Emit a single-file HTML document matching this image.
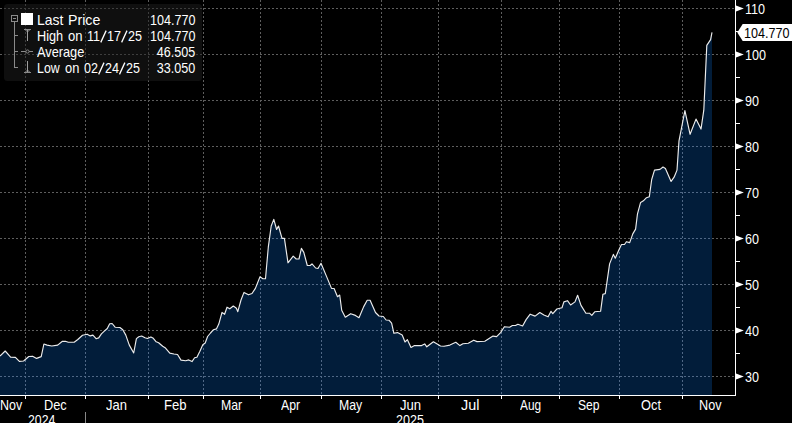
<!DOCTYPE html>
<html><head><meta charset="utf-8"><title>chart</title>
<style>
html,body{margin:0;padding:0;background:#000;}
body{width:792px;height:423px;position:relative;overflow:hidden;font-family:"Liberation Sans",sans-serif;}
.t{position:absolute;display:block;font-family:"Liberation Sans",sans-serif;font-size:14.5px;line-height:16px;height:16px;white-space:nowrap;color:#fff;}
.sl{display:inline-block;vertical-align:top;overflow:visible;}
</style></head><body>
<svg width="792" height="423" viewBox="0 0 792 423" style="position:absolute;left:0;top:0"><path d="M0,395.5 L0,356 L5.2,351 L10.6,357.2 L15.4,357.4 L19.4,361.4 L23.6,361 L28.8,356.5 L32.6,356.2 L36.6,358.4 L41.2,356.6 L43.9,344 L47.1,345.1 L51.8,346 L57.7,345.1 L62.4,341.3 L65.4,341.3 L68.3,342.2 L74.2,342.2 L77.8,339.5 L82.5,335.3 L87.2,334.2 L90.2,335.9 L92.9,335.1 L96.1,338.7 L98.7,337.9 L101.4,333.9 L104.3,331.2 L107.3,328.5 L109.7,323.7 L112.1,323.5 L115.1,327.2 L119.9,327.5 L122.8,329.8 L125.8,335.1 L129.3,345.1 L133.7,353 L136.4,338.6 L138.8,336.8 L141.7,336 L145,337.7 L147.4,338.5 L150.9,336.9 L153.3,338.3 L156.2,341.8 L158.6,342.7 L162.7,346.2 L165.1,347.7 L169.8,353.1 L173.9,354 L177.5,354.5 L181,360.1 L185.7,360.7 L188.7,359.9 L192,361.6 L194.6,357.8 L196.9,357.2 L199.9,351.3 L202.8,344.8 L205.2,343 L207.6,336.5 L210.5,333 L213.5,329.7 L216.4,328.9 L218.8,324.1 L222,312.4 L224.6,314.3 L227,307.2 L229.8,308.8 L233.3,306 L236.4,308.3 L237.8,311.7 L241,300 L244,292.4 L248.5,294.8 L252,293.5 L255.4,288.4 L260,276.8 L262.9,278.7 L265.5,278.7 L268.3,247.2 L271.2,226 L273.8,219.4 L276.6,229.5 L278.5,226 L282,238.3 L284.4,238.3 L288,262.8 L293.2,256.2 L296.2,259 L299,259 L301.4,248.4 L303.8,252.4 L307.3,265.5 L310.2,265.5 L312,263.8 L315.6,268 L318,268.5 L321,263.3 L326.2,275.6 L331.5,288.4 L334.1,288.5 L337.5,296.7 L339.7,295 L341.7,310.2 L345.3,317.2 L350.7,313.7 L355.4,315.4 L359,317.7 L363.7,306.6 L367.2,300.2 L370.1,300.2 L375.5,312.5 L379,316 L383.3,316.5 L386.1,320 L389.2,320.3 L391.6,323.2 L393.9,333.3 L397.5,332.6 L402.2,335 L405,342 L407.4,339.7 L411,347.5 L414.5,345.6 L421.6,345.6 L424.7,343.9 L426.8,346.8 L433.4,341.8 L440.5,346 L444,346.3 L449.9,345.1 L455.8,342.3 L459.9,345.6 L462.9,343.7 L468.3,343.2 L473.7,340.2 L477,341.6 L484.8,341.3 L493,336.1 L496.6,336.6 L500.6,332.6 L504.4,326.7 L509.6,327.2 L512.4,325.5 L515.5,325.5 L517.9,324.3 L522.6,326 L526.1,319.6 L530.2,314.2 L535.1,316.1 L539.8,312.5 L543.9,314.9 L548.1,316.8 L551,311.3 L552.8,313.7 L556.9,309 L562,307.8 L563.9,301.9 L567.5,300.7 L570.6,305 L575,301.9 L577.6,295.3 L581,305.4 L585.9,313.2 L589.5,313.2 L591.8,315.4 L594.7,311.8 L600.6,311.3 L602.9,294.3 L605.3,293.6 L609.6,263.9 L613.4,254.4 L615.3,258.2 L619.3,249 L621.5,244.5 L624.5,244.5 L626.4,241.7 L629.7,242.6 L632.8,233.9 L635.6,229.1 L637.5,213.8 L640.6,202.4 L643.4,200.8 L646.5,197.7 L649.3,196.8 L651.7,179.5 L654.5,170.1 L660,169.4 L663,167 L665.4,168.4 L671.1,181.4 L674.1,177.2 L677,170.1 L679,140.9 L684.9,110.6 L690.1,134.3 L696,119.1 L701,129.1 L703.8,110.2 L706.8,45.4 L710.6,39.6 L712,32.3 L712,395.5 Z" fill="#021d3a"/><line x1="25.5" y1="0" x2="25.5" y2="395" stroke="#5e5e5e" stroke-width="1" stroke-dasharray="2,2" shape-rendering="crispEdges"/><line x1="85.5" y1="0" x2="85.5" y2="395" stroke="#5e5e5e" stroke-width="1" stroke-dasharray="2,2" shape-rendering="crispEdges"/><line x1="148.5" y1="0" x2="148.5" y2="395" stroke="#5e5e5e" stroke-width="1" stroke-dasharray="2,2" shape-rendering="crispEdges"/><line x1="203.5" y1="0" x2="203.5" y2="395" stroke="#5e5e5e" stroke-width="1" stroke-dasharray="2,2" shape-rendering="crispEdges"/><line x1="260.5" y1="0" x2="260.5" y2="395" stroke="#5e5e5e" stroke-width="1" stroke-dasharray="2,2" shape-rendering="crispEdges"/><line x1="321.5" y1="0" x2="321.5" y2="395" stroke="#5e5e5e" stroke-width="1" stroke-dasharray="2,2" shape-rendering="crispEdges"/><line x1="381.5" y1="0" x2="381.5" y2="395" stroke="#5e5e5e" stroke-width="1" stroke-dasharray="2,2" shape-rendering="crispEdges"/><line x1="438.5" y1="0" x2="438.5" y2="395" stroke="#5e5e5e" stroke-width="1" stroke-dasharray="2,2" shape-rendering="crispEdges"/><line x1="501.5" y1="0" x2="501.5" y2="395" stroke="#5e5e5e" stroke-width="1" stroke-dasharray="2,2" shape-rendering="crispEdges"/><line x1="559.5" y1="0" x2="559.5" y2="395" stroke="#5e5e5e" stroke-width="1" stroke-dasharray="2,2" shape-rendering="crispEdges"/><line x1="619.5" y1="0" x2="619.5" y2="395" stroke="#5e5e5e" stroke-width="1" stroke-dasharray="2,2" shape-rendering="crispEdges"/><line x1="682.5" y1="0" x2="682.5" y2="395" stroke="#5e5e5e" stroke-width="1" stroke-dasharray="2,2" shape-rendering="crispEdges"/><line x1="0" y1="8.5" x2="735" y2="8.5" stroke="#5e5e5e" stroke-width="1" stroke-dasharray="2,2" shape-rendering="crispEdges"/><line x1="0" y1="54.5" x2="735" y2="54.5" stroke="#5e5e5e" stroke-width="1" stroke-dasharray="2,2" shape-rendering="crispEdges"/><line x1="0" y1="100.5" x2="735" y2="100.5" stroke="#5e5e5e" stroke-width="1" stroke-dasharray="2,2" shape-rendering="crispEdges"/><line x1="0" y1="146.5" x2="735" y2="146.5" stroke="#5e5e5e" stroke-width="1" stroke-dasharray="2,2" shape-rendering="crispEdges"/><line x1="0" y1="192.5" x2="735" y2="192.5" stroke="#5e5e5e" stroke-width="1" stroke-dasharray="2,2" shape-rendering="crispEdges"/><line x1="0" y1="238.5" x2="735" y2="238.5" stroke="#5e5e5e" stroke-width="1" stroke-dasharray="2,2" shape-rendering="crispEdges"/><line x1="0" y1="284.5" x2="735" y2="284.5" stroke="#5e5e5e" stroke-width="1" stroke-dasharray="2,2" shape-rendering="crispEdges"/><line x1="0" y1="330.5" x2="735" y2="330.5" stroke="#5e5e5e" stroke-width="1" stroke-dasharray="2,2" shape-rendering="crispEdges"/><line x1="0" y1="376.5" x2="735" y2="376.5" stroke="#5e5e5e" stroke-width="1" stroke-dasharray="2,2" shape-rendering="crispEdges"/><clipPath id="ac"><path d="M0,395.5 L0,356 L5.2,351 L10.6,357.2 L15.4,357.4 L19.4,361.4 L23.6,361 L28.8,356.5 L32.6,356.2 L36.6,358.4 L41.2,356.6 L43.9,344 L47.1,345.1 L51.8,346 L57.7,345.1 L62.4,341.3 L65.4,341.3 L68.3,342.2 L74.2,342.2 L77.8,339.5 L82.5,335.3 L87.2,334.2 L90.2,335.9 L92.9,335.1 L96.1,338.7 L98.7,337.9 L101.4,333.9 L104.3,331.2 L107.3,328.5 L109.7,323.7 L112.1,323.5 L115.1,327.2 L119.9,327.5 L122.8,329.8 L125.8,335.1 L129.3,345.1 L133.7,353 L136.4,338.6 L138.8,336.8 L141.7,336 L145,337.7 L147.4,338.5 L150.9,336.9 L153.3,338.3 L156.2,341.8 L158.6,342.7 L162.7,346.2 L165.1,347.7 L169.8,353.1 L173.9,354 L177.5,354.5 L181,360.1 L185.7,360.7 L188.7,359.9 L192,361.6 L194.6,357.8 L196.9,357.2 L199.9,351.3 L202.8,344.8 L205.2,343 L207.6,336.5 L210.5,333 L213.5,329.7 L216.4,328.9 L218.8,324.1 L222,312.4 L224.6,314.3 L227,307.2 L229.8,308.8 L233.3,306 L236.4,308.3 L237.8,311.7 L241,300 L244,292.4 L248.5,294.8 L252,293.5 L255.4,288.4 L260,276.8 L262.9,278.7 L265.5,278.7 L268.3,247.2 L271.2,226 L273.8,219.4 L276.6,229.5 L278.5,226 L282,238.3 L284.4,238.3 L288,262.8 L293.2,256.2 L296.2,259 L299,259 L301.4,248.4 L303.8,252.4 L307.3,265.5 L310.2,265.5 L312,263.8 L315.6,268 L318,268.5 L321,263.3 L326.2,275.6 L331.5,288.4 L334.1,288.5 L337.5,296.7 L339.7,295 L341.7,310.2 L345.3,317.2 L350.7,313.7 L355.4,315.4 L359,317.7 L363.7,306.6 L367.2,300.2 L370.1,300.2 L375.5,312.5 L379,316 L383.3,316.5 L386.1,320 L389.2,320.3 L391.6,323.2 L393.9,333.3 L397.5,332.6 L402.2,335 L405,342 L407.4,339.7 L411,347.5 L414.5,345.6 L421.6,345.6 L424.7,343.9 L426.8,346.8 L433.4,341.8 L440.5,346 L444,346.3 L449.9,345.1 L455.8,342.3 L459.9,345.6 L462.9,343.7 L468.3,343.2 L473.7,340.2 L477,341.6 L484.8,341.3 L493,336.1 L496.6,336.6 L500.6,332.6 L504.4,326.7 L509.6,327.2 L512.4,325.5 L515.5,325.5 L517.9,324.3 L522.6,326 L526.1,319.6 L530.2,314.2 L535.1,316.1 L539.8,312.5 L543.9,314.9 L548.1,316.8 L551,311.3 L552.8,313.7 L556.9,309 L562,307.8 L563.9,301.9 L567.5,300.7 L570.6,305 L575,301.9 L577.6,295.3 L581,305.4 L585.9,313.2 L589.5,313.2 L591.8,315.4 L594.7,311.8 L600.6,311.3 L602.9,294.3 L605.3,293.6 L609.6,263.9 L613.4,254.4 L615.3,258.2 L619.3,249 L621.5,244.5 L624.5,244.5 L626.4,241.7 L629.7,242.6 L632.8,233.9 L635.6,229.1 L637.5,213.8 L640.6,202.4 L643.4,200.8 L646.5,197.7 L649.3,196.8 L651.7,179.5 L654.5,170.1 L660,169.4 L663,167 L665.4,168.4 L671.1,181.4 L674.1,177.2 L677,170.1 L679,140.9 L684.9,110.6 L690.1,134.3 L696,119.1 L701,129.1 L703.8,110.2 L706.8,45.4 L710.6,39.6 L712,32.3 L712,395.5 Z"/></clipPath><g clip-path="url(#ac)"><line x1="25.5" y1="0" x2="25.5" y2="395" stroke="#506886" stroke-width="1" stroke-dasharray="2,2" shape-rendering="crispEdges"/><line x1="85.5" y1="0" x2="85.5" y2="395" stroke="#506886" stroke-width="1" stroke-dasharray="2,2" shape-rendering="crispEdges"/><line x1="148.5" y1="0" x2="148.5" y2="395" stroke="#506886" stroke-width="1" stroke-dasharray="2,2" shape-rendering="crispEdges"/><line x1="203.5" y1="0" x2="203.5" y2="395" stroke="#506886" stroke-width="1" stroke-dasharray="2,2" shape-rendering="crispEdges"/><line x1="260.5" y1="0" x2="260.5" y2="395" stroke="#506886" stroke-width="1" stroke-dasharray="2,2" shape-rendering="crispEdges"/><line x1="321.5" y1="0" x2="321.5" y2="395" stroke="#506886" stroke-width="1" stroke-dasharray="2,2" shape-rendering="crispEdges"/><line x1="381.5" y1="0" x2="381.5" y2="395" stroke="#506886" stroke-width="1" stroke-dasharray="2,2" shape-rendering="crispEdges"/><line x1="438.5" y1="0" x2="438.5" y2="395" stroke="#506886" stroke-width="1" stroke-dasharray="2,2" shape-rendering="crispEdges"/><line x1="501.5" y1="0" x2="501.5" y2="395" stroke="#506886" stroke-width="1" stroke-dasharray="2,2" shape-rendering="crispEdges"/><line x1="559.5" y1="0" x2="559.5" y2="395" stroke="#506886" stroke-width="1" stroke-dasharray="2,2" shape-rendering="crispEdges"/><line x1="619.5" y1="0" x2="619.5" y2="395" stroke="#506886" stroke-width="1" stroke-dasharray="2,2" shape-rendering="crispEdges"/><line x1="682.5" y1="0" x2="682.5" y2="395" stroke="#506886" stroke-width="1" stroke-dasharray="2,2" shape-rendering="crispEdges"/><line x1="0" y1="8.5" x2="735" y2="8.5" stroke="#506886" stroke-width="1" stroke-dasharray="2,2" shape-rendering="crispEdges"/><line x1="0" y1="54.5" x2="735" y2="54.5" stroke="#506886" stroke-width="1" stroke-dasharray="2,2" shape-rendering="crispEdges"/><line x1="0" y1="100.5" x2="735" y2="100.5" stroke="#506886" stroke-width="1" stroke-dasharray="2,2" shape-rendering="crispEdges"/><line x1="0" y1="146.5" x2="735" y2="146.5" stroke="#506886" stroke-width="1" stroke-dasharray="2,2" shape-rendering="crispEdges"/><line x1="0" y1="192.5" x2="735" y2="192.5" stroke="#506886" stroke-width="1" stroke-dasharray="2,2" shape-rendering="crispEdges"/><line x1="0" y1="238.5" x2="735" y2="238.5" stroke="#506886" stroke-width="1" stroke-dasharray="2,2" shape-rendering="crispEdges"/><line x1="0" y1="284.5" x2="735" y2="284.5" stroke="#506886" stroke-width="1" stroke-dasharray="2,2" shape-rendering="crispEdges"/><line x1="0" y1="330.5" x2="735" y2="330.5" stroke="#506886" stroke-width="1" stroke-dasharray="2,2" shape-rendering="crispEdges"/><line x1="0" y1="376.5" x2="735" y2="376.5" stroke="#506886" stroke-width="1" stroke-dasharray="2,2" shape-rendering="crispEdges"/></g><polyline points="0,356 5.2,351 10.6,357.2 15.4,357.4 19.4,361.4 23.6,361 28.8,356.5 32.6,356.2 36.6,358.4 41.2,356.6 43.9,344 47.1,345.1 51.8,346 57.7,345.1 62.4,341.3 65.4,341.3 68.3,342.2 74.2,342.2 77.8,339.5 82.5,335.3 87.2,334.2 90.2,335.9 92.9,335.1 96.1,338.7 98.7,337.9 101.4,333.9 104.3,331.2 107.3,328.5 109.7,323.7 112.1,323.5 115.1,327.2 119.9,327.5 122.8,329.8 125.8,335.1 129.3,345.1 133.7,353 136.4,338.6 138.8,336.8 141.7,336 145,337.7 147.4,338.5 150.9,336.9 153.3,338.3 156.2,341.8 158.6,342.7 162.7,346.2 165.1,347.7 169.8,353.1 173.9,354 177.5,354.5 181,360.1 185.7,360.7 188.7,359.9 192,361.6 194.6,357.8 196.9,357.2 199.9,351.3 202.8,344.8 205.2,343 207.6,336.5 210.5,333 213.5,329.7 216.4,328.9 218.8,324.1 222,312.4 224.6,314.3 227,307.2 229.8,308.8 233.3,306 236.4,308.3 237.8,311.7 241,300 244,292.4 248.5,294.8 252,293.5 255.4,288.4 260,276.8 262.9,278.7 265.5,278.7 268.3,247.2 271.2,226 273.8,219.4 276.6,229.5 278.5,226 282,238.3 284.4,238.3 288,262.8 293.2,256.2 296.2,259 299,259 301.4,248.4 303.8,252.4 307.3,265.5 310.2,265.5 312,263.8 315.6,268 318,268.5 321,263.3 326.2,275.6 331.5,288.4 334.1,288.5 337.5,296.7 339.7,295 341.7,310.2 345.3,317.2 350.7,313.7 355.4,315.4 359,317.7 363.7,306.6 367.2,300.2 370.1,300.2 375.5,312.5 379,316 383.3,316.5 386.1,320 389.2,320.3 391.6,323.2 393.9,333.3 397.5,332.6 402.2,335 405,342 407.4,339.7 411,347.5 414.5,345.6 421.6,345.6 424.7,343.9 426.8,346.8 433.4,341.8 440.5,346 444,346.3 449.9,345.1 455.8,342.3 459.9,345.6 462.9,343.7 468.3,343.2 473.7,340.2 477,341.6 484.8,341.3 493,336.1 496.6,336.6 500.6,332.6 504.4,326.7 509.6,327.2 512.4,325.5 515.5,325.5 517.9,324.3 522.6,326 526.1,319.6 530.2,314.2 535.1,316.1 539.8,312.5 543.9,314.9 548.1,316.8 551,311.3 552.8,313.7 556.9,309 562,307.8 563.9,301.9 567.5,300.7 570.6,305 575,301.9 577.6,295.3 581,305.4 585.9,313.2 589.5,313.2 591.8,315.4 594.7,311.8 600.6,311.3 602.9,294.3 605.3,293.6 609.6,263.9 613.4,254.4 615.3,258.2 619.3,249 621.5,244.5 624.5,244.5 626.4,241.7 629.7,242.6 632.8,233.9 635.6,229.1 637.5,213.8 640.6,202.4 643.4,200.8 646.5,197.7 649.3,196.8 651.7,179.5 654.5,170.1 660,169.4 663,167 665.4,168.4 671.1,181.4 674.1,177.2 677,170.1 679,140.9 684.9,110.6 690.1,134.3 696,119.1 701,129.1 703.8,110.2 706.8,45.4 710.6,39.6 712,32.3" fill="none" stroke="#ececec" stroke-width="1.15" stroke-linejoin="round"/><rect x="0" y="395" width="736" height="1" fill="#fff" shape-rendering="crispEdges"/><rect x="735" y="0" width="1" height="396" fill="#fff" shape-rendering="crispEdges"/><rect x="25" y="396" width="1" height="3" fill="#fff" shape-rendering="crispEdges"/><rect x="85" y="396" width="1" height="3" fill="#fff" shape-rendering="crispEdges"/><rect x="148" y="396" width="1" height="3" fill="#fff" shape-rendering="crispEdges"/><rect x="203" y="396" width="1" height="3" fill="#fff" shape-rendering="crispEdges"/><rect x="260" y="396" width="1" height="3" fill="#fff" shape-rendering="crispEdges"/><rect x="321" y="396" width="1" height="3" fill="#fff" shape-rendering="crispEdges"/><rect x="381" y="396" width="1" height="3" fill="#fff" shape-rendering="crispEdges"/><rect x="438" y="396" width="1" height="3" fill="#fff" shape-rendering="crispEdges"/><rect x="501" y="396" width="1" height="3" fill="#fff" shape-rendering="crispEdges"/><rect x="559" y="396" width="1" height="3" fill="#fff" shape-rendering="crispEdges"/><rect x="619" y="396" width="1" height="3" fill="#fff" shape-rendering="crispEdges"/><rect x="682" y="396" width="1" height="3" fill="#fff" shape-rendering="crispEdges"/><path d="M736,5.4 L743.8,8.5 L736,11.6 Z" fill="#fff"/><path d="M736,51.4 L743.8,54.5 L736,57.6 Z" fill="#fff"/><path d="M736,97.4 L743.8,100.5 L736,103.6 Z" fill="#fff"/><path d="M736,143.4 L743.8,146.5 L736,149.6 Z" fill="#fff"/><path d="M736,189.4 L743.8,192.5 L736,195.6 Z" fill="#fff"/><path d="M736,235.4 L743.8,238.5 L736,241.6 Z" fill="#fff"/><path d="M736,281.4 L743.8,284.5 L736,287.6 Z" fill="#fff"/><path d="M736,327.4 L743.8,330.5 L736,333.6 Z" fill="#fff"/><path d="M736,373.4 L743.8,376.5 L736,379.6 Z" fill="#fff"/><rect x="736" y="31" width="4" height="1" fill="#fff" shape-rendering="crispEdges"/><rect x="736" y="77" width="4" height="1" fill="#fff" shape-rendering="crispEdges"/><rect x="736" y="123" width="4" height="1" fill="#fff" shape-rendering="crispEdges"/><rect x="736" y="169" width="4" height="1" fill="#fff" shape-rendering="crispEdges"/><rect x="736" y="215" width="4" height="1" fill="#fff" shape-rendering="crispEdges"/><rect x="736" y="261" width="4" height="1" fill="#fff" shape-rendering="crispEdges"/><rect x="736" y="307" width="4" height="1" fill="#fff" shape-rendering="crispEdges"/><rect x="736" y="353" width="4" height="1" fill="#fff" shape-rendering="crispEdges"/><rect x="85" y="412" width="1" height="11" fill="#888" shape-rendering="crispEdges"/><path d="M737.3,32.5 L742.7,24 L792,24 L792,41 L742.7,41 Z" fill="#fff"/><rect x="4" y="4" width="198" height="77" rx="3.5" ry="3.5" fill="#1e1e1e" fill-opacity="0.5"/><rect x="11.5" y="15.5" width="6" height="6" fill="none" stroke="#8a8a8a" stroke-width="1" shape-rendering="crispEdges"/><rect x="13" y="18" width="3" height="1" fill="#8a8a8a" fill-opacity="1" shape-rendering="crispEdges"/><rect x="14" y="22" width="1" height="46" fill="#8a8a8a" fill-opacity="1" shape-rendering="crispEdges"/><rect x="15" y="35" width="3" height="1" fill="#8a8a8a" fill-opacity="1" shape-rendering="crispEdges"/><rect x="15" y="51" width="3" height="1" fill="#8a8a8a" fill-opacity="1" shape-rendering="crispEdges"/><rect x="15" y="67" width="3" height="1" fill="#8a8a8a" fill-opacity="1" shape-rendering="crispEdges"/><rect x="21" y="13" width="12" height="12" fill="#fff" fill-opacity="1" shape-rendering="crispEdges"/><rect x="24" y="29" width="7" height="1" fill="#8a8a8a" fill-opacity="1" shape-rendering="crispEdges"/><rect x="25" y="30" width="5" height="1" fill="#8a8a8a" fill-opacity="0.55" shape-rendering="crispEdges"/><rect x="26" y="31" width="3" height="1" fill="#8a8a8a" fill-opacity="0.45" shape-rendering="crispEdges"/><rect x="27" y="30" width="1" height="11" fill="#a0a0a0" fill-opacity="1" shape-rendering="crispEdges"/><rect x="21" y="51" width="12" height="1" fill="#8a8a8a" fill-opacity="1" shape-rendering="crispEdges"/><circle cx="27.5" cy="51.5" r="1.6" fill="#0f0f0f" stroke="#8a8a8a" stroke-width="1"/><rect x="24" y="72" width="7" height="1" fill="#8a8a8a" fill-opacity="1" shape-rendering="crispEdges"/><rect x="25" y="71" width="5" height="1" fill="#8a8a8a" fill-opacity="0.55" shape-rendering="crispEdges"/><rect x="26" y="70" width="3" height="1" fill="#8a8a8a" fill-opacity="0.45" shape-rendering="crispEdges"/><rect x="27" y="61" width="1" height="11" fill="#a0a0a0" fill-opacity="1" shape-rendering="crispEdges"/></svg>
<span class="t" style="left:36.66px;top:11.98px;color:#fff;transform-origin:0 0;transform:scaleX(0.9592)">Last</span><span class="t" style="left:67.59px;top:11.98px;color:#fff;transform-origin:0 0;transform:scaleX(0.9772)">Price</span><span class="t" style="right:596.80px;top:11.98px;color:#fff;transform-origin:100% 0;transform:scaleX(0.8682709005209625)">104.770</span><span class="t" style="left:36.76px;top:27.98px;color:#fff;transform-origin:0 0;transform:scaleX(0.8772)">High</span><span class="t" style="left:67.69px;top:27.98px;color:#fff;transform-origin:0 0;transform:scaleX(0.9017)">on</span><span class="t" style="left:87.20px;top:27.98px;color:#fff;transform-origin:0 0;transform:scaleX(0.8682709005209625)">11<svg class="sl" width="8.06" height="16" viewBox="0 0 8.06 16"><line x1="0.86" y1="14.32" x2="7.08" y2="2.52" stroke="#fff" stroke-width="1.5"/></svg>17<svg class="sl" width="8.06" height="16" viewBox="0 0 8.06 16"><line x1="0.86" y1="14.32" x2="7.08" y2="2.52" stroke="#fff" stroke-width="1.5"/></svg>25</span><span class="t" style="right:596.80px;top:27.98px;color:#fff;transform-origin:100% 0;transform:scaleX(0.8682709005209625)">104.770</span><span class="t" style="left:37.20px;top:43.98px;color:#fff;transform-origin:0 0;transform:scaleX(0.8804)">Average</span><span class="t" style="right:596.80px;top:43.98px;color:#fff;transform-origin:100% 0;transform:scaleX(0.8682709005209625)">46.505</span><span class="t" style="left:36.73px;top:59.98px;color:#fff;transform-origin:0 0;transform:scaleX(0.8540)">Low</span><span class="t" style="left:64.60px;top:59.98px;color:#fff;transform-origin:0 0;transform:scaleX(0.8882)">on</span><span class="t" style="left:83.90px;top:59.98px;color:#fff;transform-origin:0 0;transform:scaleX(0.8682709005209625)">02<svg class="sl" width="8.06" height="16" viewBox="0 0 8.06 16"><line x1="0.86" y1="14.32" x2="7.08" y2="2.52" stroke="#fff" stroke-width="1.5"/></svg>24<svg class="sl" width="8.06" height="16" viewBox="0 0 8.06 16"><line x1="0.86" y1="14.32" x2="7.08" y2="2.52" stroke="#fff" stroke-width="1.5"/></svg>25</span><span class="t" style="right:596.80px;top:59.98px;color:#fff;transform-origin:100% 0;transform:scaleX(0.8682709005209625)">33.050</span><span class="t" style="left:744.90px;top:0.98px;color:#fff;transform-origin:0 0;transform:scaleX(0.8682709005209625)">110</span><span class="t" style="left:744.90px;top:46.98px;color:#fff;transform-origin:0 0;transform:scaleX(0.8682709005209625)">100</span><span class="t" style="left:744.90px;top:92.98px;color:#fff;transform-origin:0 0;transform:scaleX(0.8682709005209625)">90</span><span class="t" style="left:744.90px;top:138.98px;color:#fff;transform-origin:0 0;transform:scaleX(0.8682709005209625)">80</span><span class="t" style="left:744.90px;top:184.98px;color:#fff;transform-origin:0 0;transform:scaleX(0.8682709005209625)">70</span><span class="t" style="left:744.90px;top:230.98px;color:#fff;transform-origin:0 0;transform:scaleX(0.8682709005209625)">60</span><span class="t" style="left:744.90px;top:276.98px;color:#fff;transform-origin:0 0;transform:scaleX(0.8682709005209625)">50</span><span class="t" style="left:744.90px;top:322.98px;color:#fff;transform-origin:0 0;transform:scaleX(0.8682709005209625)">40</span><span class="t" style="left:744.90px;top:368.98px;color:#fff;transform-origin:0 0;transform:scaleX(0.8682709005209625)">30</span><span class="t" style="left:744.20px;top:24.68px;color:#000;transform-origin:0 0;transform:scaleX(0.8682709005209625)">104.770</span><span class="t" style="left:0.33px;top:396.98px;color:#fff;transform-origin:0 0;transform:scaleX(0.8599)">Nov</span><span class="t" style="left:43.70px;top:396.98px;color:#fff;transform-origin:0 0;transform:scaleX(0.8802)">Dec</span><span class="t" style="left:106.10px;top:396.98px;color:#fff;transform-origin:0 0;transform:scaleX(0.8953)">Jan</span><span class="t" style="left:164.38px;top:396.98px;color:#fff;transform-origin:0 0;transform:scaleX(0.9026)">Feb</span><span class="t" style="left:220.64px;top:396.98px;color:#fff;transform-origin:0 0;transform:scaleX(0.8499)">Mar</span><span class="t" style="left:281.40px;top:396.98px;color:#fff;transform-origin:0 0;transform:scaleX(0.8447)">Apr</span><span class="t" style="left:338.54px;top:396.98px;color:#fff;transform-origin:0 0;transform:scaleX(0.8454)">May</span><span class="t" style="left:399.50px;top:396.98px;color:#fff;transform-origin:0 0;transform:scaleX(0.9043)">Jun</span><span class="t" style="left:461.08px;top:396.98px;color:#fff;transform-origin:0 0;transform:scaleX(0.9912)">Jul</span><span class="t" style="left:520.20px;top:396.98px;color:#fff;transform-origin:0 0;transform:scaleX(0.8165)">Aug</span><span class="t" style="left:577.92px;top:396.98px;color:#fff;transform-origin:0 0;transform:scaleX(0.8361)">Sep</span><span class="t" style="left:640.90px;top:396.98px;color:#fff;transform-origin:0 0;transform:scaleX(0.8848)">Oct</span><span class="t" style="left:698.51px;top:396.98px;color:#fff;transform-origin:0 0;transform:scaleX(0.8721)">Nov</span><span class="t" style="left:28.12px;top:411.98px;color:#fff;transform-origin:0 0;transform:scaleX(0.8489)">2024</span><span class="t" style="left:395.81px;top:411.98px;color:#fff;transform-origin:0 0;transform:scaleX(0.8648)">2025</span>
</body></html>
